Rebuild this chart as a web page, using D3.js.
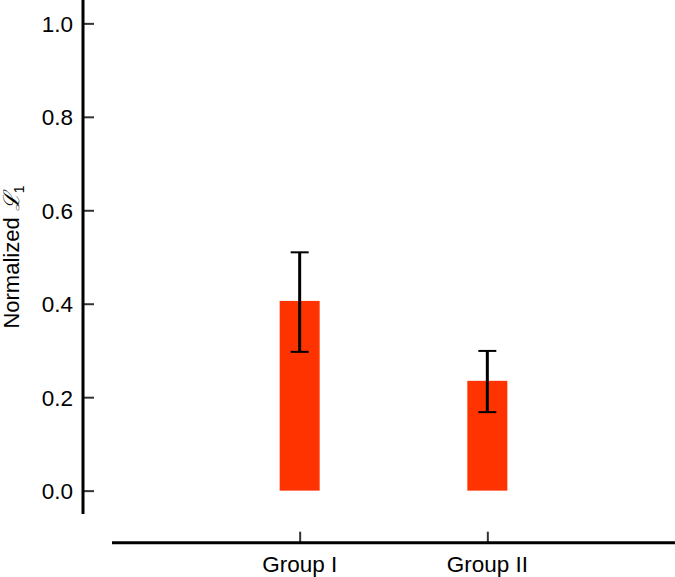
<!DOCTYPE html>
<html><head><meta charset="utf-8">
<script src="https://cdn.jsdelivr.net/npm/d3@7"></script>
<style>body{margin:0;background:#fff}svg{display:block}text{font-family:"Liberation Sans",Arial,sans-serif}</style>
</head><body><svg id="c" width="675" height="577"></svg>
<script>
const categories = ["Group I", "Group II"];
const means = [0.406, 0.235];
const errLow = [0.297, 0.168];
const errHigh = [0.510, 0.299];
const yTicks = [0.0, 0.2, 0.4, 0.6, 0.8, 1.0];

const svg = d3.select("#c");
const x = d3.scalePoint().domain(categories).range([112, 675]).padding(1);
const y = d3.scaleLinear().domain([-0.05, 1.05]).range([514, 0]);
const barW = 40;

// bars
svg.selectAll("rect.bar").data(categories).join("rect")
  .attr("x", d => x(d) - barW / 2).attr("width", barW)
  .attr("y", (d, i) => y(means[i])).attr("height", (d, i) => y(0) - y(means[i]))
  .attr("fill", "#ff3300");

// error bars
const eb = svg.selectAll("g.err").data(categories).join("g");
eb.append("line").attr("x1", d => x(d)).attr("x2", d => x(d))
  .attr("y1", (d, i) => y(errLow[i])).attr("y2", (d, i) => y(errHigh[i]))
  .attr("stroke", "#000").attr("stroke-width", 3);
[errLow, errHigh].forEach(arr => {
  eb.append("line").attr("x1", d => x(d) - 9).attr("x2", d => x(d) + 9)
    .attr("y1", (d, i) => y(arr[i])).attr("y2", (d, i) => y(arr[i]))
    .attr("stroke", "#000").attr("stroke-width", 2);
});

// y axis
const yAxis = svg.append("g").attr("transform", "translate(83,0)")
  .call(d3.axisRight(y).tickValues(yTicks).tickSize(11).tickFormat(d3.format(".1f")));
yAxis.select(".domain").remove();
yAxis.selectAll(".tick line").attr("stroke", "#333").attr("stroke-width", 2);
yAxis.selectAll(".tick text").attr("x", -10).attr("text-anchor", "end")
  .attr("font-size", 22.5).attr("fill", "#000").attr("dy", "0.36em")
  .style("font-family", "'Liberation Sans', Arial, sans-serif");
yAxis.append("line").attr("x1", 0).attr("x2", 0).attr("y1", y(1.05)).attr("y2", y(-0.05))
  .attr("stroke", "#000").attr("stroke-width", 3);

// x axis
const xAxis = svg.append("g").attr("transform", "translate(0,542.7)")
  .call(d3.axisTop(x).tickSize(11).tickFormat(""));
xAxis.select(".domain").remove();
xAxis.selectAll(".tick line").attr("stroke", "#333").attr("stroke-width", 2);
xAxis.append("line").attr("x1", 112).attr("x2", 675).attr("y1", 0).attr("y2", 0)
  .attr("stroke", "#000").attr("stroke-width", 3);
svg.selectAll("text.xl").data(categories).join("text").attr("class", "xl")
  .attr("x", d => x(d)).attr("y", 572).attr("text-anchor", "middle")
  .attr("font-size", 22.5).attr("fill", "#000").text(d => d);

// y label
const yl = svg.append("text").attr("transform", "translate(19,257) rotate(-90)")
  .attr("text-anchor", "middle").attr("font-size", 22).attr("fill", "#000");
yl.append("tspan").text("Normalized ");
yl.append("tspan").style("font-family", "'DejaVu Serif', serif").style("font-style", "italic").text("ℒ");
yl.append("tspan").attr("font-size", 14).attr("dy", 5).text("1");
</script></body></html>
